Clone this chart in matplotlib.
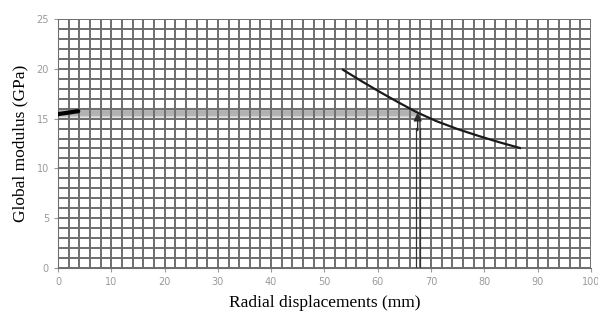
import matplotlib
matplotlib.use('Agg')
import matplotlib.pyplot as plt
import numpy as np

# modulus curve
disp = [53.5, 57, 60.5, 64, 67.3, 71, 75, 79, 83, 86.7]
modulus = [19.9, 18.75, 17.65, 16.6, 15.65, 14.75, 13.95, 13.25, 12.6, 12.05]

# reading construction: measured displacement and the resulting modulus
read_disp = 67.5
read_modulus = 15.6
stub_x = [0, 3.8]
stub_y = [15.45, 15.75]

x_ticks = list(range(0, 101, 10))
y_ticks = list(range(0, 26, 5))

fig = plt.figure(figsize=(5.98, 3.2), dpi=100)
ax = fig.add_axes([0.097, 0.1625, 0.891, 0.778])

ax.set_xlim(0, 100)
ax.set_ylim(0, 25)

# graph-paper grid
grid_c = '#6e6e6e'
for gx in np.arange(0, 101, 2):
    ax.axvline(gx, color=grid_c, lw=1.4, zorder=1)
for gy in np.arange(0, 26, 1):
    ax.axhline(gy, color=grid_c, lw=1.4, zorder=1)

# blurred horizontal reading band
for w, a in [(8, 0.15), (6, 0.22), (4, 0.3)]:
    ax.plot([0, read_disp], [read_modulus, read_modulus], color='#707070',
            lw=w, alpha=a, solid_capstyle='butt', zorder=2)
ax.plot(stub_x, stub_y, color='black', lw=3, solid_capstyle='round', zorder=4)

# curve
ax.plot(disp, modulus, color='#1a1a1a', lw=1.6, zorder=4)

# vertical arrow from the displacement axis up to the curve
ax.plot([read_disp - 0.35, read_disp - 0.35], [0, read_modulus - 1.5], color='#333333', lw=0.9, zorder=3)
ax.plot([read_disp + 0.35, read_disp + 0.35], [0, read_modulus - 1.5], color='#333333', lw=0.9, zorder=3)
ax.annotate('', xy=(read_disp, read_modulus), xytext=(read_disp, read_modulus - 1.8),
            arrowprops=dict(arrowstyle='-|>', color='#2a2a2a', lw=1.0,
                            mutation_scale=12, shrinkA=0, shrinkB=0), zorder=4)

ax.set_xticks(x_ticks)
ax.set_yticks(y_ticks)
ax.tick_params(colors='#9a9a9a', labelsize=7, length=3, width=0.8, direction='out')
for s in ax.spines.values():
    s.set_color(grid_c)
ax.spines['top'].set_visible(False)
ax.spines['right'].set_visible(False)

ax.set_xlabel('Radial displacements (mm)', family='Liberation Serif', fontsize=12.5, labelpad=6)
ax.set_ylabel('Global modulus (GPa)', family='Liberation Serif', fontsize=12.5, labelpad=6)

fig.savefig('out.png', dpi=100)
